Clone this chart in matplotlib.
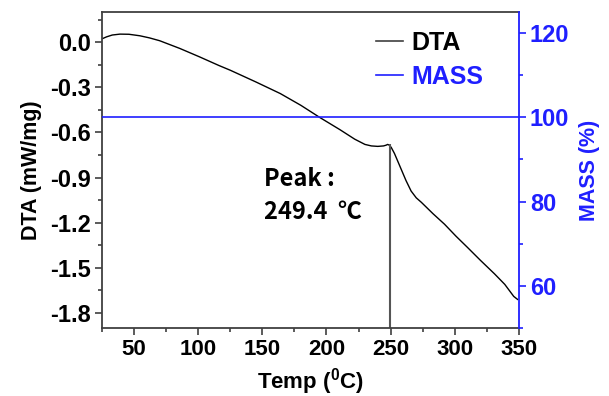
import matplotlib
matplotlib.use("Agg")
import matplotlib.pyplot as plt
from matplotlib.ticker import MultipleLocator
from matplotlib.lines import Line2D

plt.rcParams['font.family'] = ['Liberation Sans', 'DejaVu Sans']
plt.rcParams['font.weight'] = 'bold'
plt.rcParams['mathtext.fontset'] = 'custom'
plt.rcParams['mathtext.rm'] = 'Liberation Sans:bold'
plt.rcParams['mathtext.bf'] = 'Liberation Sans:bold'

# DTA curve (temp in C, DTA in mW/mg)
temp = [24, 28.6, 33, 39, 46, 54.5, 62, 70, 85.6, 101, 116, 125, 145,
        164, 180, 195, 210.5, 222, 230, 235, 240, 244.5, 246.5, 247.7, 249,
        250.5, 253, 258.5, 262, 266, 270, 274, 283, 292, 301, 310, 320,
        331, 339, 346, 349]
dta = [0.018, 0.035, 0.047, 0.053, 0.052, 0.042, 0.028, 0.009, -0.042,
       -0.098, -0.155, -0.187, -0.265, -0.342, -0.42, -0.502, -0.582,
       -0.645, -0.68, -0.69, -0.693, -0.69, -0.685, -0.68, -0.685, -0.70,
       -0.74, -0.85, -0.92, -0.99, -1.035, -1.065, -1.14, -1.21, -1.29,
       -1.365, -1.45, -1.54, -1.61, -1.69, -1.71]

# mass stays flat at 100 %
mass_temp = [25, 350]
mass = [100, 100]

peak_temp = 249.4
peak_dta = -0.68

x_ticks = [50, 100, 150, 200, 250, 300, 350]
y_ticks = [0.0, -0.3, -0.6, -0.9, -1.2, -1.5, -1.8]
y_labels = ['0.0', '-0.3', '-0.6', '-0.9', '-1.2', '-1.5', '-1.8']
mass_ticks = [60, 80, 100, 120]

blue = '#1f1fff'
grey = '#404040'

fig = plt.figure(figsize=(6.09, 3.96), dpi=100)
ax = fig.add_axes([0.1675, 0.1717, 0.6845, 0.798])
ax2 = ax.twinx()

ax.plot(temp, dta, color='black', lw=1.0)
ax.vlines(peak_temp, -1.9, peak_dta, color='#555555', lw=1.5)
ax2.plot(mass_temp, mass, color=blue, lw=1.2)

ax.set_xlim(25, 350)
ax.set_ylim(-1.9, 0.2)
ax2.set_ylim(50, 125)

ax.set_xticks(x_ticks)
ax.set_xticklabels([str(t) for t in x_ticks], fontsize=16, fontweight='bold')
ax.set_yticks(y_ticks)
ax.set_yticklabels(y_labels, fontsize=17, fontweight='bold')
ax2.set_yticks(mass_ticks)
ax2.set_yticklabels([str(t) for t in mass_ticks], fontsize=17,
                    fontweight='bold', color=blue)
ax.xaxis.set_minor_locator(MultipleLocator(25))
ax.yaxis.set_minor_locator(MultipleLocator(0.15))
ax2.yaxis.set_minor_locator(MultipleLocator(10))

for s in ['left', 'bottom', 'top']:
    ax.spines[s].set_color(grey)
    ax.spines[s].set_linewidth(1.3)
ax.spines['right'].set_visible(False)
for s in ['left', 'bottom', 'top']:
    ax2.spines[s].set_visible(False)
ax2.spines['right'].set_color(blue)
ax2.spines['right'].set_linewidth(1.3)

ax.tick_params(axis='both', which='major', direction='out', length=5,
               width=1.2, color=grey, pad=3)
ax.tick_params(axis='both', which='minor', direction='out', length=3,
               width=1.2, color=grey)
ax.tick_params(axis='x', which='both', top=False)
ax2.tick_params(axis='y', which='major', direction='out', length=5,
                width=1.2, color=blue, pad=3)
ax2.tick_params(axis='y', which='minor', direction='out', length=3,
                width=1.2, color=blue)

ax.set_xlabel(r'Temp ($^\mathbf{0}$C)', fontsize=16, fontweight='bold',
              labelpad=4)
ax.set_ylabel('DTA (mW/mg)', fontsize=15.5, fontweight='bold', labelpad=6)
ax2.set_ylabel('MASS (%)', fontsize=15.5, fontweight='bold', color=blue,
               labelpad=7)

ax.text(0.388, 0.42, 'Peak :\n249.4  \u2103', transform=ax.transAxes,
        fontsize=17, fontweight='bold', linespacing=1.5,
        family=['Noto Sans CJK KR', 'DejaVu Sans'], va='center')

handles = [Line2D([], [], color=grey, lw=1.2),
           Line2D([], [], color=blue, lw=1.2)]
leg = ax.legend(handles, ['DTA', 'MASS'], loc='upper left',
                bbox_to_anchor=(0.657, 0.94), frameon=False,
                prop={'size': 18, 'weight': 'bold'}, handlelength=1.1,
                handletextpad=0.3, labelspacing=0.4, borderpad=0,
                borderaxespad=0)
for t in leg.get_texts():
    t.set_fontweight('bold')
leg.get_texts()[1].set_color(blue)

fig.savefig('out.png', dpi=100)
